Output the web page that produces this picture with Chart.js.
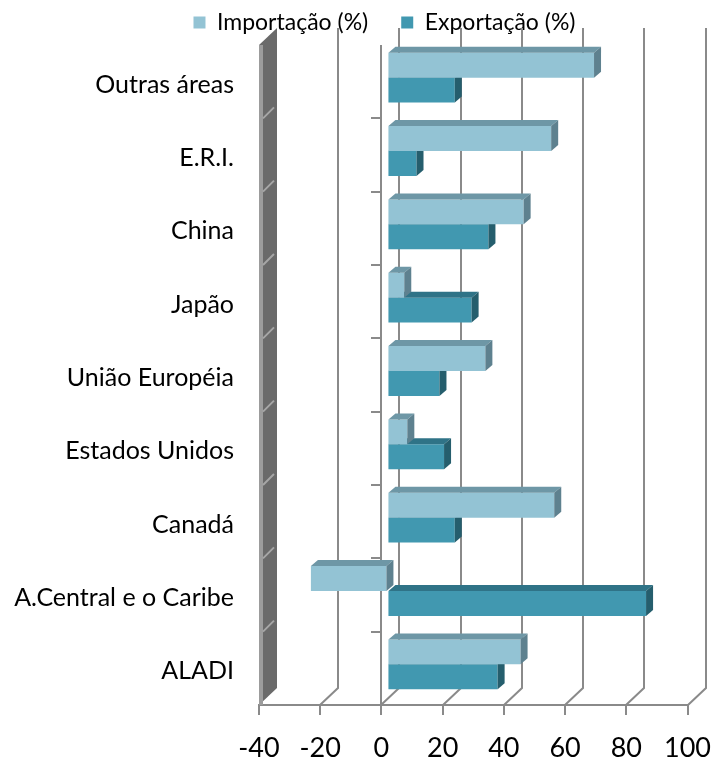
<!DOCTYPE html>
<html>
<head>
<meta charset="utf-8">
<script src="https://cdn.jsdelivr.net/npm/chart.js@4.4.1/dist/chart.umd.min.js"></script>
<style>
  html, body { margin: 0; padding: 0; background: #fff; }
</style>
</head>
<body>
<canvas id="chart" width="711" height="768"></canvas>
<script>
// ---- data ----
const categories = ['Outras áreas', 'E.R.I.', 'China', 'Japão', 'União Européia',
                    'Estados Unidos', 'Canadá', 'A.Central e o Caribe', 'ALADI'];
const importacao = [67.5, 53.5, 44.5, 5.5, 32, 6.5, 54.5, -25, 43.5];
const exportacao = [22, 9.5, 33, 27.5, 17, 18.5, 22, 84.5, 36];
const xTicks = [-40, -20, 0, 20, 40, 60, 80, 100];

const FONT = 'Lato, sans-serif';
const GRID = '#8a8a8a';
const DEPTH_X = 18, DEPTH_Y = 17;   // back wall offset
const BAR_DX = 7, BAR_DY = 6;       // bar extrusion

const faceColors = [
    { top: '#6E97A6', side: '#5E818F' },  // Importação
    { top: '#2F7387', side: '#255E6D' }   // Exportação
];

// back wall, floor diagonals, left wall and the category axis
const backdrop = {
    id: 'backdrop',
    beforeDatasetsDraw(chart) {
        const { ctx, chartArea: a, scales: { x } } = chart;
        ctx.save();
        ctx.strokeStyle = GRID;
        ctx.lineWidth = 2;
        xTicks.forEach(v => {
            if (v === xTicks[0]) return;
            const px = Math.round(x.getPixelForValue(v));
            ctx.beginPath();
            ctx.moveTo(px + DEPTH_X, a.top - DEPTH_Y);
            ctx.lineTo(px + DEPTH_X, a.bottom - DEPTH_Y);
            ctx.lineTo(px, a.bottom);
            ctx.stroke();
        });

        // left wall
        const lx = x.getPixelForValue(xTicks[0]);
        ctx.fillStyle = '#6a6a6a';
        ctx.beginPath();
        ctx.moveTo(lx, a.top);
        ctx.lineTo(lx + DEPTH_X, a.top - DEPTH_Y);
        ctx.lineTo(lx + DEPTH_X, a.bottom - DEPTH_Y);
        ctx.lineTo(lx, a.bottom);
        ctx.closePath();
        ctx.fill();
        ctx.fillStyle = '#9c9c9c';
        ctx.fillRect(lx, a.top, 4, a.bottom - a.top);
        ctx.strokeStyle = '#a6a6a6';
        const band = (a.bottom - a.top) / categories.length;
        for (let i = 1; i < categories.length; i++) {
            const b = a.top + band * i;
            ctx.beginPath();
            ctx.moveTo(lx + 4, b);
            ctx.lineTo(lx + 15, b - 11);
            ctx.stroke();
        }

        // category axis at x = 0
        const zx = Math.round(x.getPixelForValue(0));
        ctx.strokeStyle = GRID;
        ctx.beginPath();
        ctx.moveTo(zx, a.top);
        ctx.lineTo(zx, a.bottom);
        for (let i = 1; i < categories.length; i++) {
            const b = Math.round(a.top + band * i);
            ctx.moveTo(zx - 10, b);
            ctx.lineTo(zx, b);
        }
        ctx.stroke();
        ctx.restore();

        // bars sit a little into the depth
        ctx.save();
        ctx.translate(6, -4);
    },
    afterDatasetDraw(chart, args) {
        const { ctx } = chart;
        const c = faceColors[args.index];
        args.meta.data.forEach(el => {
            const { x, y, base, height } = el.getProps(['x', 'y', 'base', 'height'], true);
            const left = Math.min(x, base), right = Math.max(x, base);
            const top = y - height / 2, bottom = y + height / 2;
            ctx.fillStyle = c.top;
            ctx.beginPath();
            ctx.moveTo(left, top);
            ctx.lineTo(left + BAR_DX, top - BAR_DY);
            ctx.lineTo(right + BAR_DX, top - BAR_DY);
            ctx.lineTo(right, top);
            ctx.closePath();
            ctx.fill();
            ctx.fillStyle = c.side;
            ctx.beginPath();
            ctx.moveTo(right, top);
            ctx.lineTo(right + BAR_DX, top - BAR_DY);
            ctx.lineTo(right + BAR_DX, bottom - BAR_DY);
            ctx.lineTo(right, bottom);
            ctx.closePath();
            ctx.fill();
        });
    },
    afterDatasetsDraw(chart) {
        chart.ctx.restore();
    }
};

// legend sits on the top line, a bit right of centre, while the plot starts lower
const legendFit = {
    id: 'legendFit',
    beforeLayout(chart) {
        const lg = chart.legend;
        if (!lg || lg._patched) return;
        const fit = lg.fit;
        lg.fit = function () {
            fit.call(this);
            this.height = 67;
        };
        const draw = lg.draw;
        lg.draw = function () {
            this.ctx.save();
            this.ctx.translate(29, 0);
            draw.call(this);
            this.ctx.restore();
        };
        lg._patched = true;
    }
};

new Chart(document.getElementById('chart'), {
    type: 'bar',
    data: {
        labels: categories,
        datasets: [
            {
                label: 'Importação (%)',
                data: importacao,
                backgroundColor: '#93C3D4',
                borderWidth: 0
            },
            {
                label: 'Exportação (%)',
                data: exportacao,
                backgroundColor: '#4198B0',
                borderWidth: 0
            }
        ]
    },
    options: {
        indexAxis: 'y',
        responsive: false,
        animation: false,
        devicePixelRatio: 1,
        categoryPercentage: 0.68,
        barPercentage: 1,
        layout: { padding: { top: -22, left: 0, right: 0, bottom: 0 } },
        plugins: {
            legend: {
                position: 'top',
                labels: {
                    font: { family: FONT, size: 23 },
                    color: '#000',
                    boxWidth: 12,
                    boxHeight: 12,
                    padding: 33
                }
            },
            tooltip: { enabled: false }
        },
        scales: {
            x: {
                type: 'linear',
                min: xTicks[0],
                max: xTicks[xTicks.length - 1],
                afterBuildTicks: s => { s.ticks = xTicks.map(v => ({ value: v })); },
                afterFit: s => { s.height = 63; },
                ticks: {
                    font: { family: FONT, size: 27, lineHeight: 2.44 },
                    color: '#000',
                    padding: 0
                },
                grid: {
                    drawOnChartArea: false,
                    drawTicks: true,
                    tickLength: 10,
                    color: GRID,
                    lineWidth: 2
                },
                border: { display: true, color: GRID, width: 2 }
            },
            y: {
                afterFit: s => { s.width = 259; },
                ticks: {
                    font: { family: FONT, size: 25 },
                    color: '#000',
                    padding: 25,
                    labelOffset: 3
                },
                grid: { display: false, drawTicks: false },
                border: { display: false }
            }
        }
    },
    plugins: [legendFit, backdrop]
});
</script>
</body>
</html>
